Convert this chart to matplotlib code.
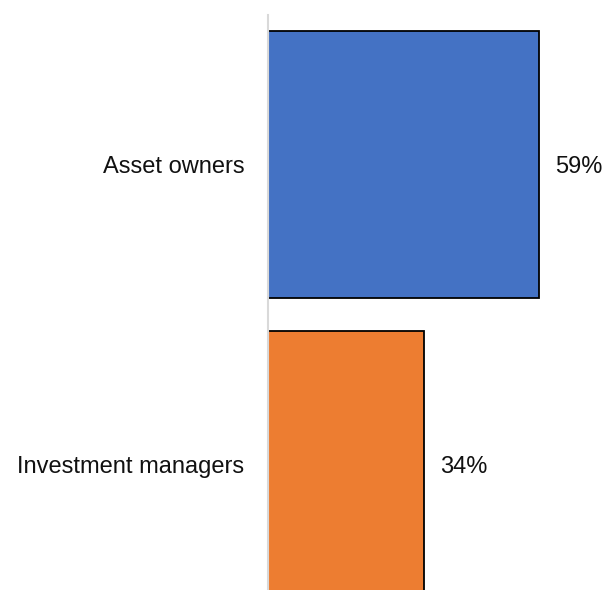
import matplotlib
matplotlib.use("Agg")
import matplotlib.pyplot as plt

categories = ["Asset owners", "Investment managers"]
shares = [59, 34]
bar_colors = ["#4472C4", "#ED7D31"]

W, H, DPI = 604, 590, 100
fig = plt.figure(figsize=(W / DPI, H / DPI), dpi=DPI)
plt.rcParams["font.family"] = ["Liberation Sans", "DejaVu Sans"]

# axes runs from the grey axis line to the right edge, clipped at the bottom
ax = fig.add_axes([268 / W, 0, 1 - 268 / W, 1 - 15 / H])

pos = list(range(len(categories)))
ax.barh(pos, shares, height=0.89, color=bar_colors, edgecolor="black", linewidth=1.3)

for p, v in zip(pos, shares):
    ax.text(v + 3.5, p, f"{v}%", va="center_baseline", ha="left", fontsize=17, color="#111111")

ax.set_xlim(0, 73.2)
ax.set_ylim(1.418, -0.498)
ax.set_yticks(pos)
ax.set_yticklabels(categories, fontsize=17, color="#111111")
ax.tick_params(axis="y", length=0, pad=17)
ax.set_xticks([])

for side in ["top", "right", "bottom"]:
    ax.spines[side].set_visible(False)
ax.spines["left"].set_color("#D9D9D9")
ax.spines["left"].set_linewidth(1.5)

fig.savefig("out.png", dpi=DPI)
